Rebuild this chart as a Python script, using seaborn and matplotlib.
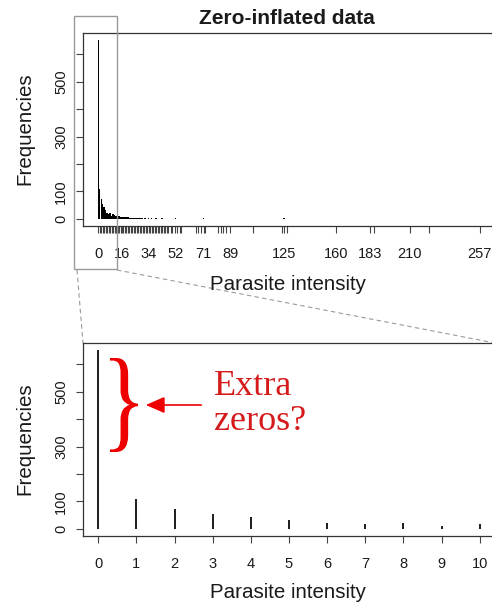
import numpy as np
import pandas as pd
import matplotlib
matplotlib.use("Agg")
import matplotlib.pyplot as plt
import seaborn as sns
from matplotlib.textpath import TextPath
from matplotlib.patches import PathPatch, Rectangle, FancyArrowPatch
from matplotlib.font_manager import FontProperties
from matplotlib.lines import Line2D
from matplotlib.transforms import Affine2D

# ---------------- data ----------------
intensity = list(range(0, 48)) + [49, 50, 52, 53, 55, 56, 66, 67, 69, 71, 72,
                                  81, 83, 84, 86, 89, 104, 124, 125, 127,
                                  160, 183, 186, 210, 223, 257]
frequency = ([652, 108, 71, 53, 44, 32, 22, 17, 22, 11, 17,
              14, 12, 11, 9, 8, 7, 7, 6, 5, 5,
              4, 4, 4, 3, 3, 3, 2, 3, 2, 2,
              2, 2, 1, 2, 1, 2, 1, 1, 2, 1, 1, 1, 2, 1, 1, 1, 1]
             + [1, 1, 2, 1, 1, 1, 1, 1, 1, 2, 1,
                1, 1, 1, 1, 1, 1, 1, 2, 1,
                1, 1, 1, 1, 1, 1])
top_xlabels = [0, 16, 34, 52, 71, 89, 125, 160, 183, 210, 257]
zoom_ticks = list(range(0, 11))
y_ticks = [0, 100, 200, 300, 400, 500, 600]
y_labels = ["0", "100", "", "300", "", "500", ""]

title = "Zero-inflated data"
xlab = "Parasite intensity"
ylab = "Frequencies"
note = "Extra\nzeros?"

df = pd.DataFrame({"intensity": intensity, "frequency": frequency})
df_zoom = df[df["intensity"] <= 10]

# ---------------- style ----------------
sns.set_style("white")
plt.rcParams["font.family"] = ["Liberation Sans", "DejaVu Sans"]

W, H = 492, 604
fig = plt.figure(figsize=(W / 100, H / 100), dpi=100)

def fx(px):
    return px / W

def fy(py):
    return 1 - py / H

frame_col = "#333333"
tick_col = "#444444"
txt_col = "#1a1a1a"
red = "#d41a1a"
bright_red = "#ee0000"

ax_left, ax_right = 83, 495
ax1 = fig.add_axes([fx(ax_left), fy(226), fx(ax_right - ax_left), (226 - 33) / H])
ax2 = fig.add_axes([fx(ax_left), fy(536), fx(ax_right - ax_left), (536 - 343) / H])

ymax = max(frequency)
ylim = (-0.04 * ymax, ymax * 1.04)

# top panel
sns.histplot(data=df, x="intensity", weights="frequency", discrete=True,
             shrink=0.95, color="black", alpha=1, linewidth=0, ax=ax1)
xmax = max(intensity)
ax1.set_xlim(-0.04 * xmax, xmax * 1.04)
ax1.set_ylim(*ylim)
ax1.set_xticks(intensity,
               labels=[str(v) if v in top_xlabels else "" for v in intensity])

# bottom panel
sns.histplot(data=df_zoom, x="intensity", weights="frequency", discrete=True,
             shrink=0.055, color="#222222", alpha=1, linewidth=0, ax=ax2)
ax2.set_xlim(-0.4, 10.4)
ax2.set_ylim(*ylim)
ax2.set_xticks(zoom_ticks, labels=[str(v) for v in zoom_ticks])

for ax in (ax1, ax2):
    ax.set_xlabel("")
    ax.set_ylabel("")
    ax.set_yticks(y_ticks, labels=y_labels)
    for s in ax.spines.values():
        s.set_visible(True)
        s.set_color(frame_col)
        s.set_linewidth(0.9)
    ax.tick_params(axis="both", direction="out", length=5.2, width=0.8,
                   color=tick_col, labelsize=10.5, labelcolor=txt_col)
    ax.tick_params(axis="x", pad=10, bottom=True)
    ax.tick_params(axis="y", pad=5.5, left=True)
    for lab in ax.get_yticklabels():
        lab.set_rotation(90)
        lab.set_va("center")
    ax.grid(False)

# texts
fig.text(fx(287), fy(18), title, ha="center", va="center",
         fontsize=15, fontweight="bold", color=txt_col)
fig.text(fx(288), fy(285), xlab, ha="center", va="center", fontsize=14.8, color=txt_col)
fig.text(fx(288), fy(592), xlab, ha="center", va="center", fontsize=14.8, color=txt_col)
fig.text(fx(25), fy(129), ylab, ha="center", va="center", rotation=90,
         fontsize=14.8, color=txt_col)
fig.text(fx(25), fy(439), ylab, ha="center", va="center", rotation=90,
         fontsize=14.8, color=txt_col)

# annotation text
fig.text(fx(214), fy(404), note, ha="left", va="center", fontsize=26,
         family=["Liberation Serif", "DejaVu Serif"], color=red, linespacing=1.05)

# brace
tp = TextPath((0, 0), "}", size=100, prop=FontProperties(family="Liberation Serif"))
bb = tp.get_extents()
bx0, bx1, by_top, by_bot = 110, 138, 358, 452
tr = (Affine2D().translate(-bb.x0, -bb.y0)
      .scale((bx1 - bx0) / bb.width / W, (by_bot - by_top) / bb.height / H)
      .translate(fx(bx0), fy(by_bot)))
fig.add_artist(PathPatch(tp, transform=tr + fig.transFigure, facecolor=bright_red,
                         edgecolor="none", lw=0))

# arrow
fig.add_artist(FancyArrowPatch((fx(204), fy(405)), (fx(143), fy(405)),
                               transform=fig.transFigure,
                               arrowstyle="-|>,head_length=1.15,head_width=0.5",
                               mutation_scale=10, color=bright_red, lw=1.2))

# zoom rectangle and connector lines
zc = "#9a9a9a"
fig.add_artist(Rectangle((fx(74), fy(269)), fx(117 - 74), (269 - 16) / H,
                         fill=False, ec=zc, lw=1.0, transform=fig.transFigure))
fig.add_artist(Line2D([fx(77), fx(83)], [fy(270), fy(343)], transform=fig.transFigure,
                      ls=(0, (4, 3)), color=zc, lw=0.8))
fig.add_artist(Line2D([fx(117), fx(495)], [fy(270), fy(343)], transform=fig.transFigure,
                      ls=(0, (4, 3)), color=zc, lw=0.8))

fig.savefig("out.png", dpi=100)
